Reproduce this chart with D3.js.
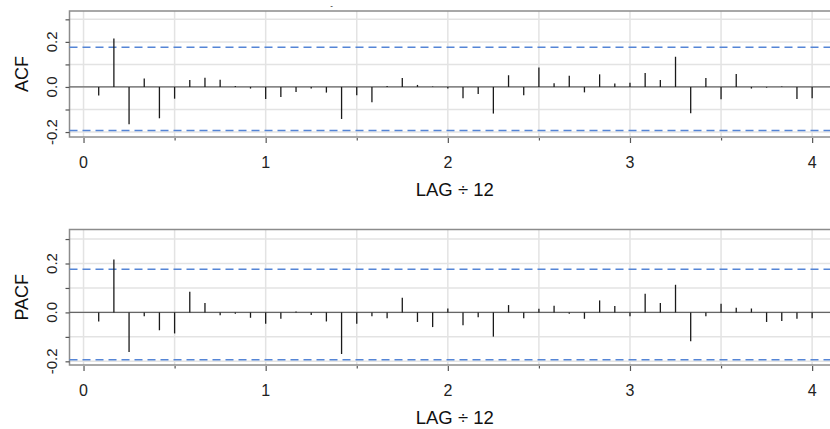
<!DOCTYPE html>
<html>
<head>
<meta charset="utf-8">
<script src="https://cdn.jsdelivr.net/npm/d3@7"></script>
<style>
  body { margin: 0; background: #fff; }
  svg { display: block; font-family: "Liberation Sans", Arial, sans-serif; }
</style>
</head>
<body>
<svg id="chart" width="830" height="429"></svg>
<script>
// lags 1..48, shown as lag / 12
const lags = d3.range(1, 49);
const acfValues = [
  -0.038, 0.215, -0.165, 0.038, -0.139, -0.052, 0.031, 0.041, 0.032, 0.004, -0.007, -0.053,
  -0.044, -0.022, -0.007, -0.025, -0.142, -0.037, -0.068, 0.004, 0.040, 0.009, 0.002, -0.007,
  -0.050, -0.031, -0.118, 0.052, -0.037, 0.086, 0.016, 0.050, -0.024, 0.056, 0.015, 0.019,
  0.062, 0.031, 0.134, -0.117, 0.040, -0.055, 0.058, -0.007, -0.003, 0.002, -0.053, -0.050
];
const pacfValues = [
  -0.037, 0.216, -0.162, -0.016, -0.073, -0.086, 0.084, 0.038, -0.012, -0.005, -0.022, -0.046,
  -0.026, 0.004, -0.011, -0.037, -0.170, -0.046, -0.016, -0.024, 0.060, -0.039, -0.060, 0.016,
  -0.052, -0.020, -0.099, 0.030, -0.024, 0.015, 0.027, -0.005, -0.026, 0.049, 0.026, -0.016,
  0.076, 0.038, 0.113, -0.118, -0.016, 0.035, 0.019, 0.016, -0.039, -0.035, -0.026, -0.024
];
// confidence bounds: -1/n +/- 2/sqrt(n)
const bounds = [0.1764, -0.1935];
const xTicks = [0, 1, 2, 3, 4];
const yTickLabels = ['-0.2', '0.0', '0.2'];

const svg = d3.select('#chart');

// plot region runs past the right edge of the picture
const x = d3.scaleLinear()
  .domain([-0.077, 4.153])
  .range([69.5, 840]);

const panels = [
  { name: 'ACF', values: acfValues, top: 11, bottom: 137, domain: [-0.222, 0.337] },
  { name: 'PACF', values: pacfValues, top: 229.5, bottom: 365, domain: [-0.215, 0.339] }
];

// title remnant at the very top
svg.append('text')
  .attr('x', 331.5)
  .attr('y', 8)
  .attr('text-anchor', 'middle')
  .attr('font-size', 8)
  .attr('fill', '#000')
  .text('-');

panels.forEach(p => {
  const y = d3.scaleLinear()
    .domain(p.domain)
    .range([p.bottom, p.top]);

  const g = svg.append('g');

  // grid
  g.append('g')
    .selectAll('line')
    .data(d3.range(0, 4.01, 0.5))
    .join('line')
    .attr('x1', d => x(d)).attr('x2', d => x(d))
    .attr('y1', p.top).attr('y2', p.bottom)
    .attr('stroke', '#e3e3e3')
    .attr('stroke-width', 1.5);

  g.append('g')
    .selectAll('line')
    .data(d3.range(-0.2, 0.31, 0.1))
    .join('line')
    .attr('x1', x.range()[0]).attr('x2', x.range()[1])
    .attr('y1', d => y(d)).attr('y2', d => y(d))
    .attr('stroke', '#e3e3e3')
    .attr('stroke-width', 1.5);

  // box
  g.append('rect')
    .attr('x', x.range()[0])
    .attr('y', p.top)
    .attr('width', x.range()[1] - x.range()[0])
    .attr('height', p.bottom - p.top)
    .attr('fill', 'none')
    .attr('stroke', '#8c8c8c')
    .attr('stroke-width', 1.5);

  // zero line
  g.append('line')
    .attr('x1', x.range()[0]).attr('x2', x.range()[1])
    .attr('y1', y(0)).attr('y2', y(0))
    .attr('stroke', '#666')
    .attr('stroke-width', 1.2);

  // bounds
  g.append('g')
    .selectAll('line')
    .data(bounds)
    .join('line')
    .attr('x1', x.range()[0]).attr('x2', x.range()[1])
    .attr('y1', d => y(d)).attr('y2', d => y(d))
    .attr('stroke', '#5585d6')
    .attr('stroke-width', 1.5)
    .attr('stroke-dasharray', '8,5');

  // spikes
  g.append('g')
    .selectAll('line')
    .data(p.values)
    .join('line')
    .attr('x1', (d, i) => x(lags[i] / 12)).attr('x2', (d, i) => x(lags[i] / 12))
    .attr('y1', y(0)).attr('y2', d => y(d))
    .attr('stroke', '#1a1a1a')
    .attr('stroke-width', 1.3);

  // y axis
  const yAxis = g.append('g')
    .attr('transform', `translate(${x.range()[0]},0)`)
    .call(d3.axisLeft(y).tickValues(d3.range(-0.2, 0.31, 0.1)).tickSize(4).tickFormat(''));
  yAxis.select('.domain').remove();
  yAxis.selectAll('.tick line').attr('stroke', '#555').attr('stroke-width', 1.2);

  g.append('g')
    .selectAll('text')
    .data(yTickLabels)
    .join('text')
    .attr('transform', d => `translate(57,${y(+d)}) rotate(-90)`)
    .attr('text-anchor', 'middle')
    .attr('font-size', 15)
    .attr('fill', '#222')
    .text(d => d);

  g.append('text')
    .attr('transform', `translate(28,${(p.top + p.bottom) / 2}) rotate(-90)`)
    .attr('text-anchor', 'middle')
    .attr('font-size', 18)
    .attr('fill', '#111')
    .text(p.name);

  // x axis
  const xAxis = g.append('g')
    .attr('transform', `translate(0,${p.bottom + 1})`)
    .call(d3.axisBottom(x).tickValues(xTicks).tickSize(5).tickFormat(''));
  xAxis.select('.domain').remove();
  xAxis.selectAll('.tick line').attr('stroke', '#555').attr('stroke-width', 1.2);

  const xMinor = g.append('g')
    .attr('transform', `translate(0,${p.bottom + 1})`)
    .call(d3.axisBottom(x).tickValues([0.5, 1.5, 2.5, 3.5]).tickSize(2.5).tickFormat(''));
  xMinor.select('.domain').remove();
  xMinor.selectAll('.tick line').attr('stroke', '#555').attr('stroke-width', 1.2);

  g.append('g')
    .selectAll('text')
    .data(xTicks)
    .join('text')
    .attr('x', d => x(d))
    .attr('y', p.bottom + 31)
    .attr('text-anchor', 'middle')
    .attr('font-size', 16)
    .attr('fill', '#222')
    .text(d => d);

  // axis title centred on the full plot region
  g.append('text')
    .attr('x', (x.range()[0] + x.range()[1]) / 2)
    .attr('y', p.bottom + 59)
    .attr('text-anchor', 'middle')
    .attr('font-size', 18.5)
    .attr('fill', '#111')
    .text('LAG ÷ 12');
});
</script>
</body>
</html>
